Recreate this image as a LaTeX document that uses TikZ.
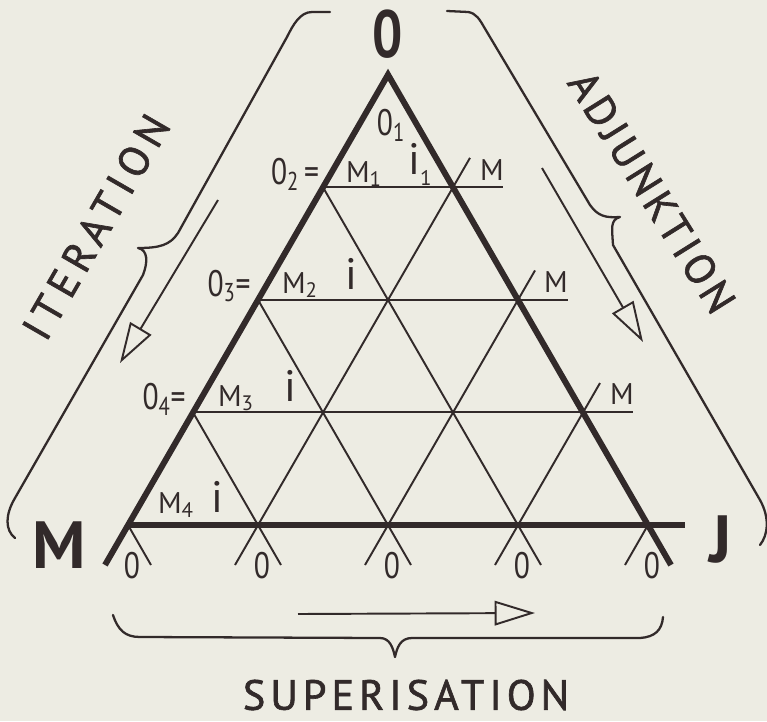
\documentclass[tikz,border=0pt]{standalone}
\usepackage{fontspec}
\setmainfont{PT Sans}
\usetikzlibrary{arrows.meta,calc}

\definecolor{ink}{RGB}{50,42,42}
\definecolor{paper}{RGB}{237,236,227}

\tikzset{
  thickline/.style={draw=ink, line width=3.4pt, line join=miter},
  gridline/.style={draw=ink, line width=1.1pt},
  bracket/.style={draw=ink, line width=1.3pt, line cap=round, line join=round},
  flow/.style={draw=ink, line width=1.1pt, -{Triangle[open, length=23pt, width=14pt]}},
  corner/.style={font=\bfseries\fontsize{38}{38}\selectfont, text=ink, inner sep=0pt},
  olabel/.style={font=\fontsize{21}{21}\selectfont, text=ink, inner sep=0pt, xscale=0.8},
  mlabel/.style={font=\fontsize{17}{17}\selectfont, text=ink, inner sep=0pt},
  ilabel/.style={font=\fontsize{25}{25}\selectfont, text=ink, inner sep=0pt},
  process/.style={font=\fontsize{24}{24}\selectfont\addfontfeature{LetterSpace=#1,FakeBold=1.5}, text=ink, inner sep=0pt},
}

\begin{document}
\begin{tikzpicture}[x=0.02cm, y=0.02cm]
    \def\unit{130}
    \def\rowh{112.58}

    % paper
    \fill[paper] (-128,-196) rectangle (639,525);
    \useasboundingbox (-128,-196) rectangle (639,525);

    % points on the base and on both sides
    \foreach \k in {0,...,4} {
        \coordinate (b\k) at (\k*\unit,0);
        \coordinate (l\k) at (\k*\unit/2,\k*\rowh);
        \coordinate (r\k) at (4*\unit-\k*\unit/2,\k*\rowh);
    }

    % Draw the thin grid
    \foreach \k in {1,2,3}
        \draw[gridline] (l\k) -- ($(r\k)+(50,0)$);
    \foreach \j/\k in {1/3,2/2,3/1}
        \draw[gridline] ($(b\j)+(-23,-40)$) -- ($(r\k)+(17,29.4)$);
    \draw[gridline] ($(b4)+(-23,-40)$) -- (b4);
    \foreach \j in {0,...,3}
        \draw[gridline] ($(b\j)+(23,-40)$) -- (l\j);

    % Draw the main triangle
    \draw[thickline] ($(b0)+(-23,-40)$) -- (l4) -- ($(b4)+(23,-40)$);
    \draw[thickline] (b0) -- ($(b4)+(37,0)$);

    % corners
    \node[corner, xscale=0.8] (top) at (260,491) {0};
    \node[corner] (mittel) at (-69,-20) {M};
    \node[corner] (interp) at (593,-15) {J};

    % labels in the grid
    \node[olabel] (o1) at (263,400) {0\textsubscript{1}};
    \node[olabel] (o2) at (167,351) {0\textsubscript{2}\,=};
    \node[olabel] (o3) at (101,239) {0\textsubscript{3}=};
    \node[olabel] (o4) at (36,126) {0\textsubscript{4}=};
    \node[mlabel] (m1) at (236,351) {M\textsubscript{1}};
    \node[mlabel] (m2) at (172,240) {M\textsubscript{2}};
    \node[mlabel] (m3) at (108,127) {M\textsubscript{3}};
    \node[mlabel] (m4) at (48,20) {M\textsubscript{4}};
    \node[ilabel] (i1) at (292,361) {i\raisebox{-0.5ex}{\fontsize{12}{12}\selectfont 1}};
    \node[ilabel] (i2) at (223,251) {i};
    \node[ilabel] (i3) at (162,139) {i};
    \node[ilabel] (i4) at (89,28) {i};
    \node[mlabel] (mr3) at (364,355) {M};
    \node[mlabel] (mr2) at (428,243) {M};
    \node[mlabel] (mr1) at (494,131) {M};
    \foreach \j in {0,...,4}
        \node[olabel] (foot\j) at ($(b\j)+(4,-41)$) {0};

    % braces
    \draw[bracket] (202,513) -- (184,513) .. controls (172,513) and (165,500) .. (159,488)
        -- (50,292) .. controls (42,280) and (32,277) .. (10,277)
        .. controls (20,275) and (20,263) .. (15,250)
        -- (-113,27) .. controls (-123,10) and (-123,-5) .. (-113,-13);
    \draw[bracket] (319,514) -- (340,513) .. controls (348,512) and (352,505) .. (356,498)
        -- (462,320) .. controls (470,309) and (477,307) .. (492,308)
        .. controls (482,305) and (484,297) .. (485,280)
        -- (632,25) .. controls (642,7) and (640,-10) .. (632,-20);
    \draw[bracket] (-15,-90) .. controls (-10,-105) and (-3,-112) .. (12,-112)
        -- (252,-113) .. controls (262,-113) and (265,-123) .. (267,-132)
        .. controls (269,-123) and (272,-113) .. (284,-113)
        -- (512,-113) .. controls (527,-112) and (534,-105) .. (535,-92);

    % arrows
    \coordinate (itstart) at (90,325);
    \coordinate (itend) at (-8,162);
    \coordinate (adstart) at (414,357);
    \coordinate (adend) at (515,183);
    \coordinate (sustart) at (170,-89);
    \coordinate (suend) at (407,-88);
    \draw[flow] (itstart) -- (itend);
    \draw[flow] (adstart) -- (adend);
    \draw[flow] (sustart) -- (suend);

    % names of the three operations
    \node[process=16, rotate=60] (iter) at (-32,298) {ITERATION};
    \node[process=10, rotate=-58] (adj) at (524,333) {ADJUNKTION};
    \node[process=12] (sup) at (278,-170) {SUPERISATION};
\end{tikzpicture}
\end{document}
